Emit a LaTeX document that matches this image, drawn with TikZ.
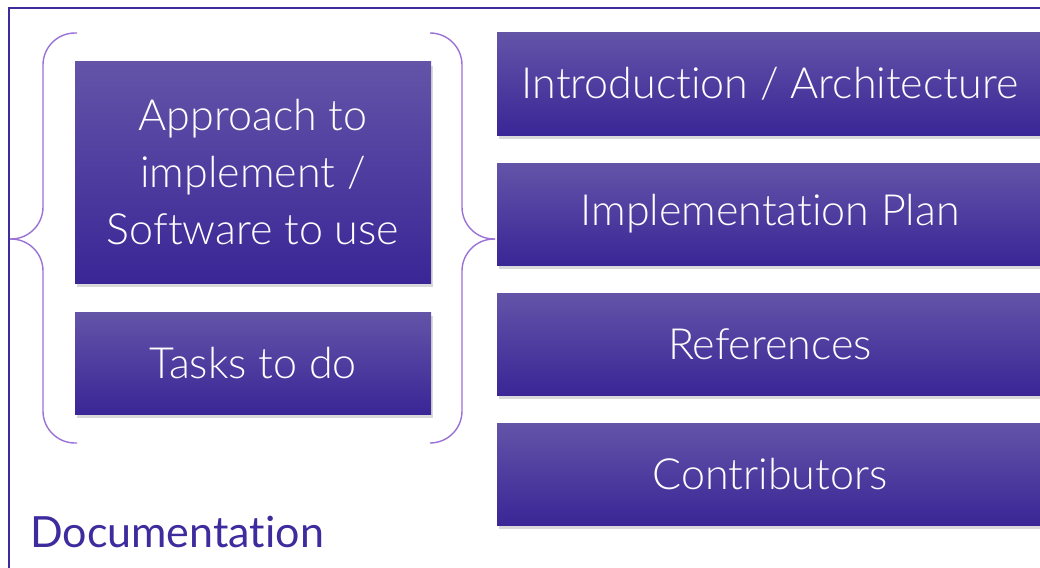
\documentclass[tikz,border=0pt]{standalone}
\usepackage{fontspec}
\setmainfont{Lato}[UprightFont=* Light, Ligatures=NoCommon]
\newfontfamily\docfont{Lato}[Ligatures=NoCommon]
\usetikzlibrary{positioning}
\usetikzlibrary{shadows}

\definecolor{boxtop}{HTML}{6354A8}
\definecolor{boxbottom}{HTML}{3A2696}
\definecolor{framecol}{HTML}{3E2C9E}
\definecolor{bracecol}{HTML}{9B72D6}

\begin{document}
\begin{tikzpicture}[x=1pt, y=-1pt
  , topic/.style={ rectangle
                 , top color=boxtop
                 , bottom color=boxbottom
                 , text=white
                 , align=center
                 , font=\fontsize{43}{57}\selectfont
                 , inner sep=0pt
                 , outer sep=0pt
                 , drop shadow={shadow xshift=2pt, shadow yshift=-4pt, opacity=.3}
                 }
  , leftbox/.style={topic, minimum width=356pt}
  , rightbox/.style={topic, minimum width=546pt, minimum height=102pt}
  , brace/.style={draw=bracecol, line width=1.4pt, rounded corners=32pt}
  ]

  \useasboundingbox (0,0) rectangle (1040,567);

  \draw [framecol, line width=2pt] (9,8) rectangle (1100,620);

  % left column
  \node [leftbox, minimum height=221pt] (approach) at (253,172.5)
    {Approach to\\implement /\\Software to use};
  \node [leftbox, minimum height=102pt, below=29pt of approach] (tasks) {Tasks to do};

  % right column
  \node [rightbox] (intro) at (770,84) {Introduction / Architecture};
  \node [rightbox, below=28pt of intro] (plan) {Implementation Plan};
  \node [rightbox, below=28pt of plan] (refs) {References};
  \node [rightbox, below=28pt of refs] (contrib) {Contributors};

  % braces
  \draw [brace] (77,33) -| (43,239) -- (10,239);
  \draw [brace] (10,239) -- (43,239) |- (77,443);
  \draw [brace] (430,33) -| (462,239) -- (495,239);
  \draw [brace] (495,239) -- (462,239) |- (430,443);

  \node [anchor=base west, text=framecol, font=\docfont\fontsize{43}{50}\selectfont, inner sep=0pt]
    (doc) at (30,547) {Documentation};

\end{tikzpicture}
\end{document}
